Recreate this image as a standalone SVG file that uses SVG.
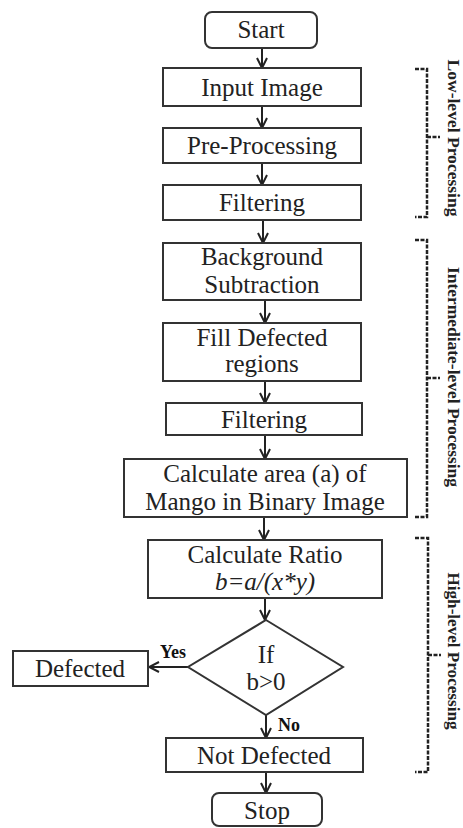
<svg xmlns="http://www.w3.org/2000/svg" width="463" height="828" viewBox="0 0 463 828">
<defs>
<style>
.box{fill:#fff;stroke:#333;stroke-width:2}
.t{font-family:'Liberation Serif','Times New Roman',serif;font-size:25px;fill:#222;text-anchor:middle}
.lbl{font-family:'Liberation Serif','Times New Roman',serif;font-size:18px;font-weight:bold;fill:#111}
.side{font-family:'Liberation Serif','Times New Roman',serif;font-size:16px;font-weight:bold;fill:#222;text-anchor:middle}
.c{fill:none;stroke:#222;stroke-width:2}
.br{fill:none;stroke:#222;stroke-width:2.5;stroke-dasharray:4 1.5}
</style>
<marker id="ah" viewBox="0 0 12 12" refX="11" refY="6" markerWidth="12" markerHeight="12" markerUnits="userSpaceOnUse" orient="auto">
<path d="M1,1 L11,6 L1,11" fill="none" stroke="#222" stroke-width="2"/>
</marker>
</defs>
<rect width="463" height="828" fill="#fff"/>
<g id="connectors">
<line class="c" x1="262" y1="48" x2="262" y2="68" marker-end="url(#ah)"/>
<line class="c" x1="262" y1="106" x2="262" y2="128" marker-end="url(#ah)"/>
<line class="c" x1="262" y1="163" x2="262" y2="185" marker-end="url(#ah)"/>
<line class="c" x1="263" y1="220" x2="263" y2="243" marker-end="url(#ah)"/>
<line class="c" x1="265" y1="300" x2="265" y2="323" marker-end="url(#ah)"/>
<line class="c" x1="265" y1="381" x2="265" y2="403" marker-end="url(#ah)"/>
<line class="c" x1="265" y1="435" x2="265" y2="459" marker-end="url(#ah)"/>
<line class="c" x1="264" y1="517" x2="264" y2="540" marker-end="url(#ah)"/>
<line class="c" x1="265" y1="598" x2="265" y2="620" marker-end="url(#ah)"/>
<line class="c" x1="188" y1="667" x2="149" y2="667" marker-end="url(#ah)"/>
<line class="c" x1="266" y1="715" x2="266" y2="738" marker-end="url(#ah)"/>
<line class="c" x1="266" y1="772" x2="266" y2="793" marker-end="url(#ah)"/>
</g>
<g id="start"><rect class="box" x="205" y="12" width="112" height="36" rx="7"/><text class="t" x="261" y="38">Start</text></g>
<g id="input"><rect class="box" x="163" y="68" width="198" height="38"/><text class="t" x="262" y="96">Input Image</text></g>
<g id="preproc"><rect class="box" x="163" y="128" width="198" height="35"/><text class="t" x="262" y="154">Pre-Processing</text></g>
<g id="filter1"><rect class="box" x="163" y="185" width="198" height="35"/><text class="t" x="262" y="211">Filtering</text></g>
<g id="bgsub"><rect class="box" x="163" y="243" width="198" height="57"/><text class="t" x="262" y="265">Background</text><text class="t" x="262" y="293">Subtraction</text></g>
<g id="fill"><rect class="box" x="163" y="323" width="198" height="58"/><text class="t" x="262" y="346">Fill Defected</text><text class="t" x="262" y="372">regions</text></g>
<g id="filter2"><rect class="box" x="166" y="403" width="196" height="32"/><text class="t" x="264" y="428">Filtering</text></g>
<g id="area"><rect class="box" x="124" y="459" width="283" height="58"/><text class="t" x="265" y="482">Calculate area (a) of</text><text class="t" x="265" y="510">Mango in Binary Image</text></g>
<g id="ratio"><rect class="box" x="148" y="540" width="234" height="58"/><text class="t" x="265" y="563">Calculate Ratio</text><text class="t" x="265" y="590" font-style="italic">b=a/(x*y)</text></g>
<g id="decision"><polygon class="box" points="266,620 343,667 266,715 188,667"/><text class="t" x="266" y="663">If</text><text class="t" x="266" y="690">b&gt;0</text></g>
<g id="defected"><rect class="box" x="13" y="651" width="135" height="35"/><text class="t" x="80" y="677">Defected</text></g>
<g id="notdef"><rect class="box" x="166" y="738" width="197" height="34"/><text class="t" x="264" y="764">Not Defected</text></g>
<g id="stop"><rect class="box" x="212" y="793" width="110" height="33" rx="7"/><text class="t" x="267" y="819">Stop</text></g>
<g id="labels"><text class="lbl" x="160" y="658">Yes</text><text class="lbl" x="278" y="731">No</text></g>
<g id="low"><path class="br" d="M415,69 H427 V217 H415 M427,137 H440"/><text class="side" transform="translate(448,138) rotate(90)" textLength="157" lengthAdjust="spacingAndGlyphs">Low-level Processing</text></g>
<g id="mid"><path class="br" d="M415,240 H427 V517 H415 M427,378 H440"/><text class="side" transform="translate(448,377) rotate(90)" textLength="220" lengthAdjust="spacingAndGlyphs">Intermediate-level Processing</text></g>
<g id="high"><path class="br" d="M415,538 H428 V772 H415 M428,655 H441"/><text class="side" transform="translate(448,651) rotate(90)" textLength="157" lengthAdjust="spacingAndGlyphs">High-level Processing</text></g>
</svg>
